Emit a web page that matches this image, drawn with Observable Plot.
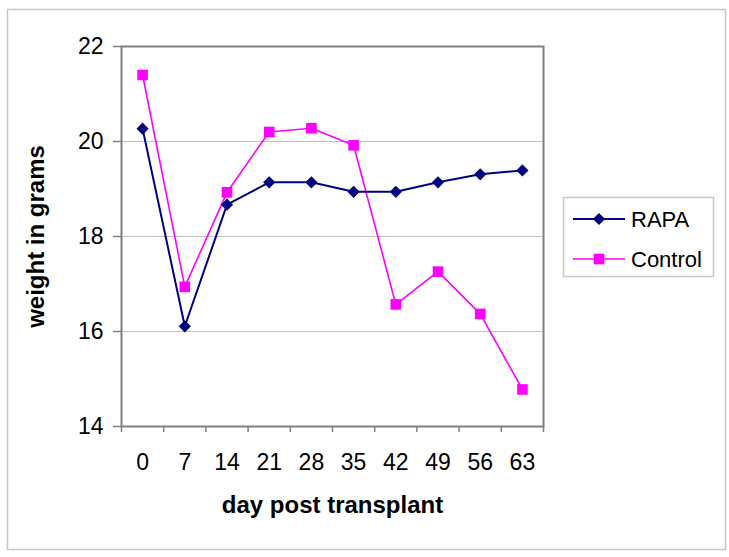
<!DOCTYPE html>
<html>
<head>
<meta charset="utf-8">
<script src="https://cdn.jsdelivr.net/npm/d3@7"></script>
<script src="https://cdn.jsdelivr.net/npm/@observablehq/plot@0.6"></script>
<style>
  html, body { margin: 0; padding: 0; background: #fff; }
  #chart { position: relative; width: 729px; height: 557px; }
</style>
</head>
<body>
<div id="chart"></div>
<script>
const days = [0, 7, 14, 21, 28, 35, 42, 49, 56, 63];
const rapa = [20.27, 16.11, 18.67, 19.14, 19.14, 18.94, 18.94, 19.14, 19.31, 19.39];
const control = [21.40, 16.94, 18.93, 20.20, 20.28, 19.92, 16.57, 17.26, 16.37, 14.78];
const yTicks = [14, 16, 18, 20, 22];
const seriesNames = ["RAPA", "Control"];
const xTitle = "day post transplant";
const yTitle = "weight in grams";

const rapaData = days.map((d, i) => ({day: d, w: rapa[i]}));
const ctrlData = days.map((d, i) => ({day: d, w: control[i]}));
const half = (days[1] - days[0]) / 2;
const boundaries = [days[0] - half, ...days.map(d => d + half)];

const font = "'Liberation Sans', Arial, sans-serif";
const navy = "#000080", magenta = "#ff00ff";
const rDiamond = 5.5, rSquare = 6.0;

const plot = Plot.plot({
  width: 729,
  height: 557,
  marginLeft: 121,
  marginRight: 186,
  marginTop: 46,
  marginBottom: 131,
  style: {fontFamily: font, fontSize: "23px", color: "#000", background: "#fff"},
  x: {domain: [boundaries[0], boundaries[boundaries.length - 1]]},
  y: {domain: [14, 22]},
  marks: [
    Plot.ruleY(yTicks.filter(t => t > 14 && t < 22), {stroke: "#c0c0c0", strokeWidth: 1, strokeOpacity: 1}),
    Plot.axisX({ticks: boundaries, tickFormat: () => "", tickSize: 6, stroke: "#808080", strokeWidth: 1.5, strokeOpacity: 1, label: null}),
    Plot.axisX({ticks: days, tickSize: 0, tickPadding: 27, fontSize: 23, label: null, tickFormat: d => String(d)}),
    Plot.axisY({ticks: yTicks, tickSize: 8, tickPadding: 10, fontSize: 23, stroke: "#808080", strokeWidth: 1.5, strokeOpacity: 1, label: null, tickFormat: d => String(d)}),
    Plot.frame({stroke: "#808080", strokeWidth: 2}),
    Plot.line(ctrlData, {x: "day", y: "w", stroke: magenta, strokeWidth: 1.6}),
    Plot.line(rapaData, {x: "day", y: "w", stroke: navy, strokeWidth: 2}),
    Plot.dot(rapaData, {x: "day", y: "w", symbol: "diamond2", r: rDiamond, fill: navy, stroke: null}),
    Plot.dot(ctrlData, {x: "day", y: "w", symbol: "square", r: rSquare, fill: magenta, stroke: null}),
    Plot.text([yTitle], {frameAnchor: "left", dx: -85, rotate: -90, textAnchor: "middle", lineAnchor: "middle", fontWeight: "bold", fontSize: 24, fill: "#000"}),
    Plot.text([xTitle], {frameAnchor: "bottom", dy: 79, textAnchor: "middle", lineAnchor: "middle", fontWeight: "bold", fontSize: 24, fill: "#000"})
  ]
});

document.getElementById("chart").appendChild(plot);

// outer chart border
const svg = d3.select(plot);
svg.insert("rect", ":first-child")
  .attr("x", 7.5).attr("y", 9.5).attr("width", 718).attr("height", 540)
  .attr("fill", "none").attr("stroke", "#c8c8c8").attr("stroke-width", 1.5);

// legend
const lg = svg.append("g");
lg.append("rect").attr("x", 563.5).attr("y", 197.5).attr("width", 150).attr("height", 79)
  .attr("fill", "#fff").attr("stroke", "#c8c8c8").attr("stroke-width", 1.5);
const entries = [
  {name: seriesNames[0], color: navy, sym: d3.symbolDiamond2, size: Math.PI * rDiamond * rDiamond, y: 219, sw: 2},
  {name: seriesNames[1], color: magenta, sym: d3.symbolSquare, size: Math.PI * rSquare * rSquare, y: 259, sw: 1.6}
];
for (const e of entries) {
  lg.append("line").attr("x1", 573).attr("x2", 625).attr("y1", e.y).attr("y2", e.y)
    .attr("stroke", e.color).attr("stroke-width", e.sw);
  lg.append("path").attr("d", d3.symbol(e.sym, e.size)()).attr("transform", `translate(599,${e.y})`)
    .attr("fill", e.color);
  lg.append("text").attr("x", 631).attr("y", e.y).attr("dy", "0.35em")
    .style("text-anchor", "start").style("font-size", "22px").style("font-family", font)
    .attr("fill", "#000").text(e.name);
}
</script>
</body>
</html>
